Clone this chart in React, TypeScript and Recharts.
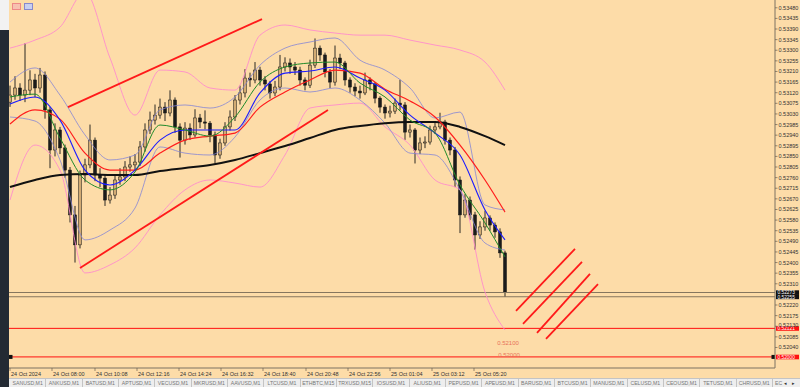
import React from "react"
import { ComposedChart, Bar, Line, XAxis, YAxis, ReferenceLine, ReferenceDot } from "recharts"

// prices are kept in points (1 point = 0.00001)
const closes = [
  53110, 53140, 53110, 53131, 53174, 53140, 53195, 53047, 52877, 52962,
  52886, 52792, 52602, 52475, 52771, 52814, 52919, 52771, 52758, 52665,
  52686, 52750, 52763, 52805, 52814, 52826, 52890, 52962, 53004, 53025,
  53059, 53034, 53089, 52975, 52919, 52970, 52941, 53013, 52996, 52991,
  52941, 52856, 52907, 52975, 53017, 53089, 53119, 53182, 53174, 53216,
  53174, 53157, 53119, 53144, 53229, 53246, 53229, 53216, 53174, 53152,
  53237, 53309, 53280, 53208, 53165, 53267, 53246, 53174, 53144, 53127,
  53119, 53174, 53157, 53097, 53059, 53034, 53042, 53076, 53068, 52953,
  52962, 52877, 52907, 52911, 52962, 52975, 52996, 52919, 52877, 52750,
  52602, 52665, 52602, 52517, 52551, 52589, 52559, 52530, 52441, 52275,
]
const highs = [
  53150, 53190, 53160, 53330, 53215, 53200, 53225, 53210, 53060, 52990,
  52975, 52900, 52805, 52640, 52790, 52840, 52985, 52930, 52800, 52775,
  52720, 52775, 52800, 52830, 52850, 52860, 52915, 52990, 53040, 53070,
  53095, 53080, 53130, 53100, 52990, 52995, 52990, 53050, 53030, 53045,
  53000, 52955, 52925, 52995, 53045, 53110, 53150, 53220, 53205, 53250,
  53230, 53190, 53170, 53170, 53280, 53270, 53265, 53250, 53230, 53185,
  53260, 53350, 53320, 53290, 53220, 53320, 53285, 53255, 53185, 53160,
  53150, 53205, 53185, 53165, 53105, 53070, 53065, 53095, 53175, 53080,
  52985, 52970, 52930, 52935, 52980, 53000, 53035, 53005, 52930, 52890,
  52765, 52690, 52680, 52615, 52575, 52620, 52600, 52570, 52545, 52450,
]
const lows = [
  53060, 53090, 53085, 53080, 53110, 53100, 53120, 53010, 52800, 52850,
  52860, 52760, 52570, 52400, 52460, 52740, 52800, 52745, 52720, 52640,
  52650, 52670, 52730, 52745, 52785, 52790, 52810, 52870, 52945, 52985,
  53010, 53000, 53020, 52950, 52845, 52900, 52920, 52930, 52970, 52965,
  52910, 52820, 52840, 52895, 52960, 53000, 53070, 53100, 53145, 53160,
  53150, 53130, 53095, 53105, 53130, 53210, 53200, 53195, 53150, 53130,
  53140, 53225, 53255, 53185, 53140, 53150, 53220, 53150, 53120, 53105,
  53095, 53110, 53130, 53075, 53035, 53010, 53015, 53030, 53045, 52920,
  52930, 52820, 52860, 52885, 52900, 52945, 52965, 52900, 52855, 52720,
  52525, 52590, 52580, 52455, 52500, 52535, 52535, 52505, 52420, 52254,
]
const firstOpen = 53080
const barMinutes = 15

// indicator readings, taken at these bars
const sampleBars = [0, 5, 10, 15, 20, 25, 30, 35, 40, 45, 50, 55, 60, 65, 70, 75, 80, 85, 90, 95, 99]
const maSlow = [52720, 52750, 52771, 52775, 52771, 52771, 52788, 52801, 52814, 52835, 52864, 52894, 52928, 52962, 52979, 52991, 52996, 52996, 52975, 52936, 52898]
const maRed = [52987, 53047, 53008, 52864, 52792, 52792, 52864, 52919, 52936, 52949, 53059, 53123, 53174, 53216, 53203, 53135, 53085, 53017, 52898, 52750, 52614]
const maBlue = [53072, 53102, 53004, 52792, 52729, 52792, 52919, 52962, 52962, 52962, 53119, 53203, 53212, 53229, 53182, 53131, 53025, 52949, 52856, 52623, 52496]
const maGreen = [53102, 53114, 52928, 52750, 52708, 52784, 52983, 52962, 52936, 53017, 53165, 53229, 53246, 53250, 53161, 53102, 53004, 52949, 52729, 52568, 52424]
const bandUpper = [53165, 53225, 53110, 52941, 52835, 52856, 53047, 53068, 53055, 53102, 53237, 53309, 53335, 53352, 53258, 53216, 53140, 53013, 53038, 52644, 52623]
const bandLower = [53017, 53000, 52835, 52496, 52538, 52631, 52890, 52864, 52856, 52932, 53089, 53140, 53123, 53140, 53089, 52991, 52864, 52856, 52708, 52483, 52453]
const wideUpper = [53309, 53343, 53398, 53547, 53267, 53025, 53216, 53208, 53140, 53131, 53364, 53407, 53386, 53373, 53364, 53364, 53343, 53322, 53301, 53250, 53131]
const wideLower = [52665, 52898, 52792, 52356, 52390, 52462, 52602, 52708, 52750, 52737, 52720, 52856, 53055, 53068, 53076, 52975, 52898, 52750, 52708, 52275, 52114]

// drawn objects: [minute, price] pairs
const trendLines = [
  [[174, 53059], [756, 53432]],
  [[210, 52377], [954, 53047]],
  [[1518, 52195], [1695, 52458]],
  [[1539, 52140], [1716, 52403]],
  [[1581, 52102], [1740, 52352]],
  [[1608, 52076], [1764, 52309]],
]

const timeTicks = [0, 126, 255, 381, 507, 633, 759, 888, 1014, 1140, 1266, 1392]
const timeLabels = [
  "24 Oct 2024", "24 Oct 08:00", "24 Oct 10:08", "24 Oct 12:16", "24 Oct 14:24", "24 Oct 16:32",
  "24 Oct 18:40", "24 Oct 20:48", "24 Oct 22:56", "25 Oct 01:04", "25 Oct 03:12", "25 Oct 05:20",
]
// 0.52265 sits under the bid/ask tags and is not drawn
const priceTicks = [
  53480, 53435, 53390, 53345, 53300, 53255, 53210, 53165, 53120, 53075, 53030,
  52985, 52940, 52895, 52850, 52805, 52760, 52715, 52670, 52625, 52580, 52535,
  52490, 52445, 52400, 52355, 52310, 52220, 52175, 52130, 52085, 52040,
]
const bidAsk = [52273, 52255]
const alertLevels = [52121, 52000]

const tabs = [
  "SANUSD,M1", "ANKUSD,M1", "BATUSD,M1", "APTUSD,M1", "VECUSD,M1", "MKRUSD,M1", "AAVUSD,M1",
  "LTCUSD,M1", "ETHBTC,M15", "TRXUSD,M15", "IOSUSD,M1", "ALIUSD,M1", "PEPUSD,M1", "APEUSD,M1",
  "BARUSD,M1", "BTCUSD,M1", "MANUSD,M1", "CELUSD,M1", "CEOUSD,M1", "TETUSD,M1", "CHRUSD,M1",
]

const FONT = "Liberation Sans, Arial, sans-serif"
const fmt = (v: number) => (v / 100000).toFixed(5)

const rows = closes.map((c, i) => {
  const row: any = {
    t: i * barMinutes,
    open: i === 0 ? firstOpen : closes[i - 1],
    close: c,
    high: highs[i],
    low: lows[i],
    range: [lows[i], highs[i]],
  }
  const k = sampleBars.indexOf(i)
  if (k >= 0) {
    row.maSlow = maSlow[k]
    row.maRed = maRed[k]
    row.maBlue = maBlue[k]
    row.maGreen = maGreen[k]
    row.bandUpper = bandUpper[k]
    row.bandLower = bandLower[k]
    row.wideUpper = wideUpper[k]
    row.wideLower = wideLower[k]
  }
  return row
})

function Candle(props: any) {
  const { x, y, width, height, payload } = props
  if (x == null || y == null) return null
  const top = Math.min(y, y + height)
  const h = Math.abs(height)
  const { open, close, high, low } = payload
  const span = high - low || 1
  const yOf = (v: number) => top + ((high - v) / span) * h
  const cx = x + width / 2
  const bTop = yOf(Math.max(open, close))
  const bBot = yOf(Math.min(open, close))
  const up = close >= open
  return (
    <g>
      <line x1={cx} x2={cx} y1={top} y2={top + h} stroke="#151515" strokeWidth={0.9} />
      <rect
        x={x}
        y={bTop}
        width={width}
        height={Math.max(1, bBot - bTop)}
        fill={up ? "#d2ab74" : "#1b1b1b"}
        stroke="#151515"
        strokeWidth={0.5}
      />
    </g>
  )
}

function TimeTick({ x, y, payload }: any) {
  const label = timeLabels[timeTicks.indexOf(payload.value)]
  return (
    <g>
      <line x1={x} x2={x} y1={y} y2={y + 3} stroke="#6b6050" strokeWidth={0.7} />
      <text x={x + 1} y={y + 8} fontSize={5.5} fontFamily={FONT} fill="#333">
        {label}
      </text>
    </g>
  )
}

function PriceTick({ x, y, payload }: any) {
  // a label right above a price tag is lifted a little so the tag does not cover it
  const nearTag = alertLevels.some((a) => payload.value > a && payload.value - a < 20)
  return (
    <g>
      <line x1={x} x2={x + 2.5} y1={y} y2={y} stroke="#6b6050" strokeWidth={0.7} />
      <text x={x + 3.5} y={y + (nearTag ? 0.3 : 2)} fontSize={5.5} fontFamily={FONT} fill="#333">
        {fmt(payload.value)}
      </text>
    </g>
  )
}

const priceTag = (value: number, bg: string, ends: boolean) => (props: any) => {
  const vb = props.viewBox || {}
  const left = vb.x
  const right = vb.x + vb.width
  const cy = vb.y
  return (
    <g>
      {ends && <rect x={left} y={cy - 2} width={3.5} height={4} fill="#111" />}
      {ends && <rect x={right - 3.5} y={cy - 2} width={3.5} height={4} fill="#111" />}
      <rect x={right + 1} y={cy - 2.2} width={23} height={4.6} fill={bg} />
      <text x={right + 2.5} y={cy + 1.8} fontSize={4.8} fontFamily={FONT} fill="#fff">
        {fmt(value)}
      </text>
    </g>
  )
}

export default function App() {
  return (
    <div
      style={{
        position: "fixed",
        left: 0,
        top: 0,
        width: 800,
        height: 387,
        overflow: "hidden",
        background: "#232a33",
        fontFamily: FONT,
      }}
    >
      <div style={{ position: "absolute", left: 0, top: 0, width: 9, height: 30, background: "#f2f2f2" }} />
      <div style={{ position: "absolute", left: 9, top: 0, width: 791, height: 378, background: "#fddca8" }} />
      <div style={{ position: "absolute", left: 12, top: 3, display: "flex", gap: 3 }}>
        <span style={{ width: 7, height: 5, border: "1px solid #e88", background: "#f7c0b0" }} />
        <span style={{ width: 7, height: 5, border: "1px solid #88c", background: "#c8cff0" }} />
      </div>
      <div style={{ position: "absolute", left: 9, top: 0 }}>
        <ComposedChart width={791} height={378} data={rows} margin={{ top: 0, right: 0, bottom: 0, left: 0 }}>
          <XAxis
            dataKey="t"
            type="number"
            domain={[-3, 2295]}
            allowDataOverflow
            ticks={timeTicks}
            interval={0}
            tick={<TimeTick />}
            tickLine={false}
            tickSize={0}
            tickMargin={0}
            axisLine={{ stroke: "#7d7263" }}
            height={10}
          />
          <YAxis
            orientation="right"
            type="number"
            domain={[51953, 53513]}
            allowDataOverflow
            ticks={priceTicks}
            interval={0}
            tick={<PriceTick />}
            tickLine={false}
            tickSize={0}
            tickMargin={0}
            axisLine={{ stroke: "#7d7263" }}
            width={25}
          />
          {bidAsk.map((v) => (
            <ReferenceLine key={v} y={v} stroke="#86765e" strokeWidth={1} label={priceTag(v, "#111", false)} />
          ))}
          {alertLevels.map((v, i) => (
            <ReferenceLine key={v} y={v} stroke="#ff1010" strokeWidth={1} label={priceTag(v, "#ff1010", i === 1)} />
          ))}
          <Bar dataKey="range" barSize={3} shape={<Candle />} isAnimationActive={false} />
          <Line dataKey="wideUpper" type="monotone" stroke="#ff8ccc" strokeWidth={0.9} dot={false} connectNulls isAnimationActive={false} />
          <Line dataKey="wideLower" type="monotone" stroke="#ff8ccc" strokeWidth={0.9} dot={false} connectNulls isAnimationActive={false} />
          <Line dataKey="bandUpper" type="monotone" stroke="#8585d6" strokeWidth={0.8} dot={false} connectNulls isAnimationActive={false} />
          <Line dataKey="bandLower" type="monotone" stroke="#8585d6" strokeWidth={0.8} dot={false} connectNulls isAnimationActive={false} />
          <Line dataKey="maSlow" type="monotone" stroke="#111" strokeWidth={2} dot={false} connectNulls isAnimationActive={false} />
          <Line dataKey="maRed" type="monotone" stroke="#ff1c1c" strokeWidth={1.2} dot={false} connectNulls isAnimationActive={false} />
          <Line dataKey="maBlue" type="monotone" stroke="#1c1cff" strokeWidth={1.1} dot={false} connectNulls isAnimationActive={false} />
          <Line dataKey="maGreen" type="monotone" stroke="#1f8a2a" strokeWidth={1} dot={false} connectNulls isAnimationActive={false} />
          {trendLines.map((seg, i) => (
            <ReferenceLine
              key={i}
              segment={[{ x: seg[0][0], y: seg[0][1] }, { x: seg[1][0], y: seg[1][1] }]}
              stroke="#ff1a1a"
              strokeWidth={1.8}
              ifOverflow="visible"
            />
          ))}
          <ReferenceDot
            x={1494}
            y={52059}
            r={1}
            fill="none"
            stroke="none"
            label={{ value: "0.52100", fill: "#e8735a", fontSize: 6, fontFamily: FONT, position: "center" }}
          />
          <ReferenceDot
            x={1497}
            y={52008}
            r={1}
            fill="none"
            stroke="none"
            label={{ value: "0.52000", fill: "#e8735a", fontSize: 6, fontFamily: FONT, position: "center" }}
          />
        </ComposedChart>
      </div>
      <div
        style={{
          position: "absolute",
          left: 0,
          top: 378,
          width: 800,
          height: 9,
          background: "#eeeeee",
          borderTop: "1px solid #c4c4c4",
        }}
      >
        <div style={{ position: "absolute", left: 0, top: -1, width: 9, height: 10, background: "#232a33" }} />
        <div style={{ position: "absolute", left: 10, top: 0, width: 763, height: 8, display: "flex" }}>
          {tabs.map((t) => (
            <div
              key={t}
              style={{
                flex: "1 1 0",
                fontSize: 5.2,
                color: "#777",
                textAlign: "center",
                borderRight: "1px solid #c4c4c4",
                lineHeight: "8px",
                whiteSpace: "nowrap",
                overflow: "hidden",
              }}
            >
              {t}
            </div>
          ))}
        </div>
        <div style={{ position: "absolute", left: 775, top: 0, fontSize: 5.2, color: "#777", lineHeight: "8px" }}>EC</div>
        <div style={{ position: "absolute", left: 784, top: 0, fontSize: 5, color: "#333", lineHeight: "8px" }}>◂</div>
        <div style={{ position: "absolute", left: 792, top: 0, fontSize: 5, color: "#333", lineHeight: "8px" }}>▸</div>
      </div>
    </div>
  )
}
